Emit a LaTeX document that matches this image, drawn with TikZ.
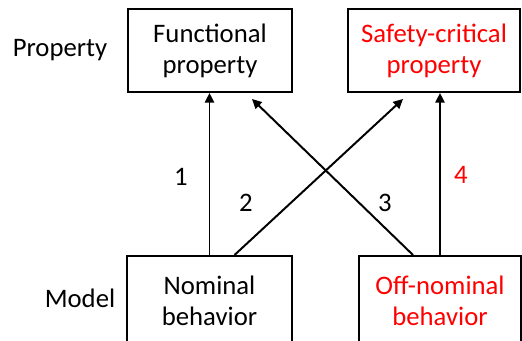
\documentclass[tikz,border=0pt]{standalone}
\usepackage{fontspec}
\setmainfont{Carlito}
\usetikzlibrary{arrows.meta}

\begin{document}
\begin{tikzpicture}[
  box/.style={draw=black,line width=1.4pt,align=center,inner sep=0pt},
  label/.style={font=\fontsize{19}{22}\selectfont,text=black},
  crit/.style={text=red},
  link/.style={draw=black,line width=1.4pt,-{Triangle[length=2.4mm,width=2.3mm]}},
]
\useasboundingbox (0,0) rectangle (13.05,8.525);
\node[box,label,minimum width=4.1cm,minimum height=2.075cm] (func) at (5.25,7.2625) {Functional\\property};
\node[box,label,crit,minimum width=4.3cm,minimum height=2.075cm] (safe) at (10.85,7.2625) {Safety-critical\\property};
\node[box,label,minimum width=4.125cm,minimum height=2.225cm] (nom) at (5.2375,1.0125) {Nominal\\behavior};
\node[box,label,crit,minimum width=4.05cm,minimum height=2.225cm] (off) at (11.0,1.0125) {Off-nominal\\behavior};
\node[label] (prop) at (1.5,7.275) {Property};
\node[label] (model) at (2.0,1.075) {Model};
% links from model to property
\draw[link] (nom.north) -- (nom.north |- func.south);
\draw[link] ([xshift=0.625cm]nom.north) -- ([xshift=-0.775cm,yshift=-0.15cm]safe.south);
\draw[link] ([xshift=-0.675cm]off.north) -- ([xshift=1.05cm,yshift=-0.15cm]func.south);
\draw[link] (off.north) -- (off.north |- safe.south);
\node[label] (n1) at (4.525,4.1) {1};
\node[label] (n2) at (6.15,3.45) {2};
\node[label] (n3) at (9.625,3.45) {3};
\node[label,crit] (n4) at (11.525,4.15) {4};
\end{tikzpicture}
\end{document}
